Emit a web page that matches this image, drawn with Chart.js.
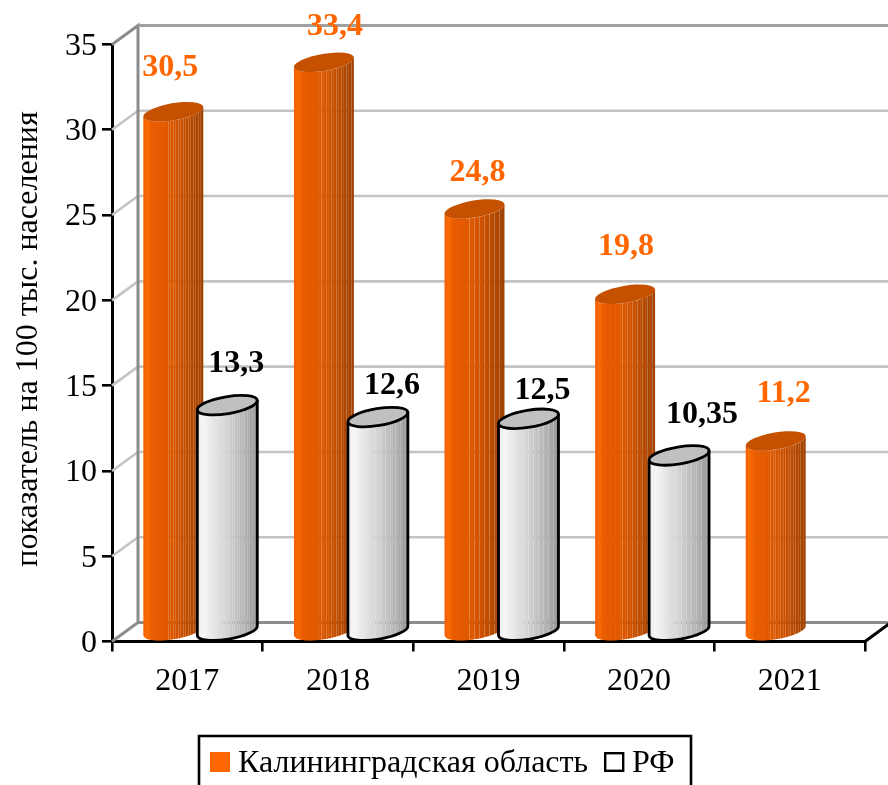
<!DOCTYPE html>
<html><head><meta charset="utf-8">
<style>html,body{margin:0;padding:0;background:#fff;overflow:hidden}canvas{display:block}</style>
<script src="https://cdn.jsdelivr.net/npm/chart.js@4"></script>
</head><body><canvas id="c" width="888" height="785"></canvas>
<script>
const categories = ['2017','2018','2019','2020','2021'];
const kaliningrad = [30.5,33.4,24.8,19.8,11.2];
const russia = [13.3,12.6,12.5,10.35,null];
const kaliningradLabels = ['30,5','33,4','24,8','19,8','11,2'];
const russiaLabels = ['13,3','12,6','12,5','10,35',''];
const seriesNames = ['Калининградская область','РФ'];
const yTitle = 'показатель на 100 тыс. населения';

const SERIF = '"Liberation Serif","Times New Roman",serif';
const ORANGE = '#ff6600';
const DX = 26, DY = 19;
const ORANGE_STOPS = [[0,[240,96,0]],[.07,[250,106,4]],[.14,[234,92,0]],[.45,[222,88,0]],[.7,[196,78,0]],[1,[158,64,0]]];
const GREY_STOPS = [[0,[236,236,236]],[.1,[246,246,246]],[.5,[210,210,210]],[.85,[172,172,172]],[1,[146,146,146]]];
// hand-placed offsets of the value labels, relative to each cylinder's top
const ORANGE_OFF = [[-3,-44],[11,-36],[3,-36],[1,-48],[8,-47]];
const GREY_OFF = [[9,-41],[14,-31],[14,-28],[23,-41],[0,0]];

function shade(stops,f){
  for(let i=1;i<stops.length;i++){
    if(f<=stops[i][0]){
      const a=stops[i-1],b=stops[i],k=(f-a[0])/(b[0]-a[0]);
      return 'rgb('+a[1].map((v,j)=>Math.round(v+(b[1][j]-v)*k)).join(',')+')';
    }
  }
  return 'rgb('+stops[stops.length-1][1].join(',')+')';
}
function drawCylinder(ctx,cx,top,base,stops,capColor,outline){
  const a=30.4,b=8.5,th=-9.5*Math.PI/180,N=24;
  const pt=(t,y)=>[cx+a*Math.cos(t)*Math.cos(th)-b*Math.sin(t)*Math.sin(th),
                   y+a*Math.cos(t)*Math.sin(th)+b*Math.sin(t)*Math.cos(th)];
  // front half of the cylinder's outline, cut into equal-width vertical strips
  const front=[];
  for(let i=0;i<=120;i++){front.push(Math.PI-Math.PI*i/120);}
  const xAt=t=>pt(t,0)[0];
  const x0=xAt(Math.PI),x1=xAt(0);
  const yOff=x=>{ // lower edge offset of the ellipse at horizontal position x
    let best=0;
    for(let i=1;i<=120;i++){
      const p=pt(front[i-1],0),q=pt(front[i],0);
      if(x>=p[0]&&x<=q[0]){const k=(x-p[0])/((q[0]-p[0])||1);best=p[1]+(q[1]-p[1])*k;break;}
    }
    return best;
  };
  for(let i=0;i<N;i++){
    const f=i/N,solid=f<.34;
    const xa=x0+(x1-x0)*f,xb=x0+(x1-x0)*(i+1)/N+(solid?.6:0);
    ctx.beginPath();
    ctx.moveTo(xa,top+yOff(xa));ctx.lineTo(xb,top+yOff(Math.min(xb,x1)));
    ctx.lineTo(xb,base+yOff(Math.min(xb,x1)));
    ctx.lineTo((xa+xb)/2,base+yOff((xa+xb)/2));
    ctx.lineTo(xa,base+yOff(xa));ctx.closePath();
    ctx.fillStyle=shade(stops,(i+.5)/N);ctx.fill();
  }
  ctx.beginPath();ctx.ellipse(cx,top,a,b,th,0,Math.PI*2);
  ctx.fillStyle=capColor;ctx.fill();
  if(outline){
    ctx.strokeStyle='#000';ctx.lineWidth=2.8;ctx.stroke();
    const l=pt(Math.PI,top),r=pt(0,top);
    ctx.beginPath();ctx.moveTo(l[0],l[1]);
    const lb=pt(Math.PI,base);ctx.lineTo(lb[0],lb[1]);
    ctx.ellipse(cx,base,a,b,th,Math.PI,0,true);
    ctx.lineTo(r[0],r[1]);ctx.stroke();
  }
}
const wall={id:'wall',beforeDatasetsDraw(chart){
  const {ctx,scales:{x,y}}=chart,L=x.left,R=x.right,W=chart.width;
  ctx.save();ctx.lineCap='butt';
  ctx.lineWidth=2.6;ctx.strokeStyle='#c4c4c4';
  y.ticks.forEach(t=>{
    if(t.value===0||t.value===35)return;
    const p=y.getPixelForValue(t.value);
    ctx.beginPath();ctx.moveTo(L,p);ctx.lineTo(L+DX,p-DY);ctx.lineTo(W,p-DY);ctx.stroke();
  });
  const t=y.getPixelForValue(35),b=y.getPixelForValue(0);
  ctx.strokeStyle='#8c8c8c';ctx.lineWidth=3;
  ctx.beginPath();ctx.moveTo(L,t);ctx.lineTo(L+DX,t-DY);ctx.lineTo(L+DX,b-DY);ctx.lineTo(L,b);ctx.stroke();
  ctx.beginPath();ctx.moveTo(L+DX,b-DY);ctx.lineTo(W,b-DY);ctx.stroke();
  ctx.strokeStyle='#a0a0a0';
  ctx.beginPath();ctx.moveTo(L+DX,t-DY);ctx.lineTo(W,t-DY);ctx.stroke();
  ctx.strokeStyle='#000';ctx.lineWidth=3;
  ctx.beginPath();ctx.moveTo(R,b);ctx.lineTo(R+DX,b-DY);ctx.stroke();
  ctx.restore();
}};
const cylinders={id:'cylinders',afterDatasetsDraw(chart){
  const {ctx}=chart;ctx.save();
  const styles=[[ORANGE_STOPS,'#c45000',false],[GREY_STOPS,'#c0c0c0',true]];
  chart.data.datasets.forEach((ds,di)=>{
    chart.getDatasetMeta(di).data.forEach((el,i)=>{
      if(ds.data[i]==null)return;
      const s=styles[di];
      drawCylinder(ctx,el.x+DX/2,el.y-DY/2,el.base-DY/2,s[0],s[1],s[2]);
    });
  });
  ctx.textAlign='center';ctx.textBaseline='middle';ctx.font='bold 32px '+SERIF;
  const sets=[[kaliningradLabels,ORANGE_OFF,ORANGE],[russiaLabels,GREY_OFF,'#000']];
  sets.forEach((s,di)=>{
    chart.getDatasetMeta(di).data.forEach((el,i)=>{
      if(!s[0][i])return;
      ctx.fillStyle=s[2];
      ctx.fillText(s[0][i],el.x+DX/2+s[1][i][0],el.y-DY/2+s[1][i][1]);
    });
  });
  ctx.restore();
}};
const extras={id:'extras',afterDraw(chart){
  const {ctx}=chart;ctx.save();
  ctx.strokeStyle='#000';ctx.lineWidth=2.6;
  ctx.beginPath();ctx.moveTo(199,800);ctx.lineTo(199,736);ctx.lineTo(691,736);ctx.lineTo(691,800);ctx.stroke();
  ctx.fillStyle=ORANGE;ctx.fillRect(210,752,20,20);
  ctx.lineWidth=2.4;ctx.strokeRect(605.2,753.2,18,17.6);
  ctx.fillStyle='#000';ctx.font='32px '+SERIF;ctx.textBaseline='alphabetic';ctx.textAlign='left';
  ctx.fillText(seriesNames[0],238,772);
  ctx.fillText(seriesNames[1],632,772);
  ctx.translate(29,339);ctx.rotate(-Math.PI/2);
  ctx.textAlign='center';ctx.textBaseline='middle';
  ctx.fillText(yTitle,0,0);
  ctx.restore();
}};
new Chart(document.getElementById('c'),{
  type:'bar',
  data:{labels:categories,datasets:[
    {label:seriesNames[0],data:kaliningrad,backgroundColor:'transparent',categoryPercentage:.717,barPercentage:1},
    {label:seriesNames[1],data:russia,backgroundColor:'transparent',categoryPercentage:.717,barPercentage:1}
  ]},
  options:{
    responsive:false,animation:false,
    layout:{padding:{top:44.5,right:23,bottom:83.5,left:0}},
    plugins:{legend:{display:false},tooltip:{enabled:false}},
    scales:{
      x:{afterFit(s){s.height=60;},
        grid:{drawOnChartArea:false,color:'#000',tickColor:'#000',tickLength:10,lineWidth:2.6},
        border:{color:'#000',width:3},
        ticks:{color:'#000',font:{family:SERIF,size:32},padding:11,maxRotation:0}},
      y:{min:0,max:35,afterFit(s){s.width=112;},
        grid:{drawOnChartArea:false,color:'#000',tickColor:'#000',tickLength:10,lineWidth:2.6},
        border:{color:'#000',width:3},
        ticks:{stepSize:5,color:'#000',font:{family:SERIF,size:32},padding:5,labelOffset:2}}
    }
  },
  plugins:[wall,cylinders,extras]
});
</script></body></html>
